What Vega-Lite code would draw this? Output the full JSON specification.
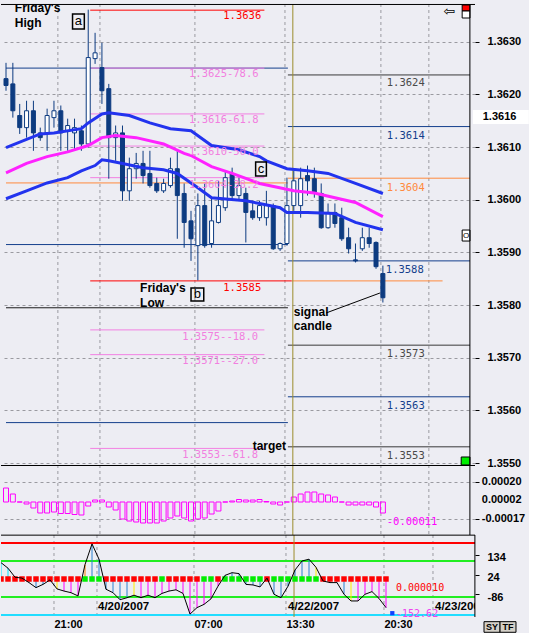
{
"$schema": "https://vega.github.io/schema/vega-lite/v6.json",
"background": "#ededf3",
"padding": {"left": 0, "top": 3, "right": 0, "bottom": 0},
"spacing": 0,
"bounds": "flush",
"config": {"view": {"stroke": null}, "text": {"font": "Liberation Sans"}, "axis": {"labelFont": "Liberation Sans"}},
"resolve": {"scale": {"x": "independent", "y": "independent", "color": "independent"}},
"datasets": {
"vgrid": [{"k":7.57},{"k":13.71},{"k":27.57},{"k":40.71},{"k":54.71},{"k":61.71}],
"one": [{}],
"levels": [
{"k":0,"k2":41.14,"p":1.3625,"cat":"navy"},
{"k":0,"k2":41.14,"p":1.36032,"cat":"orange"},
{"k":0,"k2":41.14,"p":1.35915,"cat":"navy"},
{"k":0,"k2":41.14,"p":1.35795,"cat":"black"},
{"k":0,"k2":41.14,"p":1.35577,"cat":"navy"},
{"k":12.29,"k2":37.71,"p":1.3625,"cat":"fib"},
{"k":12.29,"k2":37.71,"p":1.36163,"cat":"fib"},
{"k":12.29,"k2":37.71,"p":1.36102,"cat":"fib"},
{"k":12.29,"k2":37.71,"p":1.36042,"cat":"fib"},
{"k":12.29,"k2":37.71,"p":1.35753,"cat":"fib"},
{"k":12.29,"k2":37.71,"p":1.35706,"cat":"fib"},
{"k":12.29,"k2":37.71,"p":1.35528,"cat":"fib"},
{"k":12.29,"k2":37.71,"p":1.3636,"cat":"red"},
{"k":12.29,"k2":41.71,"p":1.35846,"cat":"red"},
{"k":41.71,"k2":63.71,"p":1.35846,"cat":"orange"},
{"k":41.14,"k2":67.714,"p":1.36237,"cat":"gray"},
{"k":41.14,"k2":67.714,"p":1.36139,"cat":"navy"},
{"k":41.14,"k2":67.714,"p":1.36041,"cat":"orange"},
{"k":41.14,"k2":67.714,"p":1.35884,"cat":"navy"},
{"k":41.14,"k2":67.714,"p":1.35724,"cat":"gray"},
{"k":41.14,"k2":67.714,"p":1.35626,"cat":"navy"},
{"k":41.14,"k2":67.714,"p":1.35531,"cat":"gray"}
],
"candles": [
{"k":0,"o":1.36230,"h":1.36260,"l":1.36207,"c":1.36217},
{"k":1,"o":1.36220,"h":1.36260,"l":1.36156,"c":1.36169},
{"k":2,"o":1.36160,"h":1.36182,"l":1.36125,"c":1.36137},
{"k":3,"o":1.36137,"h":1.36188,"l":1.36118,"c":1.36169},
{"k":4,"o":1.36169,"h":1.36188,"l":1.36093,"c":1.36127},
{"k":5,"o":1.36127,"h":1.36137,"l":1.36112,"c":1.36118},
{"k":6,"o":1.36127,"h":1.36173,"l":1.36093,"c":1.36160},
{"k":7,"o":1.36156,"h":1.36188,"l":1.36137,"c":1.36169},
{"k":8,"o":1.36169,"h":1.36179,"l":1.36093,"c":1.36127},
{"k":9,"o":1.36131,"h":1.36154,"l":1.36093,"c":1.36141},
{"k":10,"o":1.36127,"h":1.36154,"l":1.36093,"c":1.36137},
{"k":11,"o":1.36131,"h":1.36141,"l":1.36093,"c":1.36106},
{"k":12,"o":1.36106,"h":1.36361,"l":1.36099,"c":1.36270},
{"k":13,"o":1.36268,"h":1.36317,"l":1.36258,"c":1.36279},
{"k":14,"o":1.36251,"h":1.36298,"l":1.36182,"c":1.36207},
{"k":15,"o":1.36211,"h":1.36220,"l":1.36040,"c":1.36118},
{"k":16,"o":1.36118,"h":1.36141,"l":1.36074,"c":1.36127},
{"k":17,"o":1.36127,"h":1.36141,"l":1.35998,"c":1.36017},
{"k":18,"o":1.36017,"h":1.36080,"l":1.35998,"c":1.36059},
{"k":19,"o":1.36059,"h":1.36089,"l":1.36040,"c":1.36069},
{"k":20,"o":1.36069,"h":1.36093,"l":1.36031,"c":1.36046},
{"k":21,"o":1.36050,"h":1.36093,"l":1.36023,"c":1.36027},
{"k":22,"o":1.36031,"h":1.36042,"l":1.36013,"c":1.36017},
{"k":23,"o":1.36017,"h":1.36040,"l":1.36013,"c":1.36031},
{"k":24,"o":1.36027,"h":1.36080,"l":1.36023,"c":1.36059},
{"k":25,"o":1.36059,"h":1.36093,"l":1.35926,"c":1.36008},
{"k":26,"o":1.36012,"h":1.36031,"l":1.35909,"c":1.35957},
{"k":27,"o":1.35960,"h":1.35979,"l":1.35884,"c":1.35926},
{"k":28,"o":1.35913,"h":1.36012,"l":1.35847,"c":1.35989},
{"k":29,"o":1.35989,"h":1.36032,"l":1.35909,"c":1.35913},
{"k":30,"o":1.35917,"h":1.36004,"l":1.35909,"c":1.35960},
{"k":31,"o":1.35957,"h":1.36036,"l":1.35955,"c":1.35989},
{"k":32,"o":1.35985,"h":1.36055,"l":1.35979,"c":1.36042},
{"k":33,"o":1.36050,"h":1.36061,"l":1.35998,"c":1.36008},
{"k":34,"o":1.36008,"h":1.36042,"l":1.35998,"c":1.36027},
{"k":35,"o":1.36012,"h":1.36023,"l":1.35919,"c":1.35976},
{"k":36,"o":1.35979,"h":1.35998,"l":1.35962,"c":1.35966},
{"k":37,"o":1.35966,"h":1.35998,"l":1.35960,"c":1.35989},
{"k":38,"o":1.35966,"h":1.36017,"l":1.35951,"c":1.35989},
{"k":39,"o":1.35989,"h":1.35993,"l":1.35905,"c":1.35907},
{"k":40,"o":1.35907,"h":1.35919,"l":1.35903,"c":1.35917},
{"k":41,"o":1.35917,"h":1.36042,"l":1.35913,"c":1.35989},
{"k":42,"o":1.35989,"h":1.36055,"l":1.35979,"c":1.36036},
{"k":43,"o":1.35989,"h":1.36061,"l":1.35966,"c":1.36040},
{"k":44,"o":1.36046,"h":1.36065,"l":1.36008,"c":1.36036},
{"k":45,"o":1.36040,"h":1.36061,"l":1.36004,"c":1.36012},
{"k":46,"o":1.36012,"h":1.36031,"l":1.35945,"c":1.35947},
{"k":47,"o":1.35947,"h":1.35993,"l":1.35945,"c":1.35976},
{"k":48,"o":1.35976,"h":1.35993,"l":1.35947,"c":1.35955},
{"k":49,"o":1.35966,"h":1.35985,"l":1.35922,"c":1.35926},
{"k":50,"o":1.35928,"h":1.35947,"l":1.35898,"c":1.35907},
{"k":51,"o":1.35886,"h":1.35917,"l":1.35881,"c":1.35884},
{"k":52,"o":1.35907,"h":1.35947,"l":1.35903,"c":1.35928},
{"k":53,"o":1.35928,"h":1.35947,"l":1.35909,"c":1.35917},
{"k":54,"o":1.35919,"h":1.35921,"l":1.35869,"c":1.35873},
{"k":55,"o":1.35860,"h":1.35875,"l":1.35805,"c":1.35814}
],
"ma": [
{"k":0,"p":1.36099,"s":"U"},{"k":5,"p":1.36125,"s":"U"},{"k":7,"p":1.36127,"s":"U"},{"k":11,"p":1.36135,"s":"U"},{"k":12,"p":1.36146,"s":"U"},{"k":14,"p":1.36163,"s":"U"},{"k":15,"p":1.36165,"s":"U"},{"k":18,"p":1.36160,"s":"U"},{"k":21,"p":1.36146,"s":"U"},{"k":24,"p":1.36135,"s":"U"},{"k":27,"p":1.36131,"s":"U"},{"k":30,"p":1.36103,"s":"U"},{"k":34,"p":1.36095,"s":"U"},{"k":37,"p":1.36082,"s":"U"},{"k":38,"p":1.36074,"s":"U"},{"k":41,"p":1.36059,"s":"U"},{"k":44,"p":1.36055,"s":"U"},{"k":47,"p":1.36050,"s":"U"},{"k":51,"p":1.36031,"s":"U"},{"k":55,"p":1.36012,"s":"U"},
{"k":0,"p":1.36051,"s":"M"},{"k":3,"p":1.36069,"s":"M"},{"k":6,"p":1.36082,"s":"M"},{"k":9,"p":1.36091,"s":"M"},{"k":12,"p":1.36103,"s":"M"},{"k":14,"p":1.36118,"s":"M"},{"k":16,"p":1.36122,"s":"M"},{"k":19,"p":1.36118,"s":"M"},{"k":23,"p":1.36106,"s":"M"},{"k":26,"p":1.36088,"s":"M"},{"k":27,"p":1.36084,"s":"M"},{"k":30,"p":1.36063,"s":"M"},{"k":33,"p":1.36050,"s":"M"},{"k":37,"p":1.36031,"s":"M"},{"k":42,"p":1.36017,"s":"M"},{"k":45,"p":1.36013,"s":"M"},{"k":51,"p":1.35995,"s":"M"},{"k":55,"p":1.35968,"s":"M"},
{"k":0,"p":1.36002,"s":"L"},{"k":3,"p":1.36017,"s":"L"},{"k":6,"p":1.36032,"s":"L"},{"k":9,"p":1.36042,"s":"L"},{"k":11,"p":1.36055,"s":"L"},{"k":13,"p":1.36065,"s":"L"},{"k":14,"p":1.36076,"s":"L"},{"k":15,"p":1.36074,"s":"L"},{"k":17,"p":1.36069,"s":"L"},{"k":20,"p":1.36061,"s":"L"},{"k":23,"p":1.36057,"s":"L"},{"k":25,"p":1.36050,"s":"L"},{"k":28,"p":1.36023,"s":"L"},{"k":30,"p":1.36004,"s":"L"},{"k":35,"p":1.35998,"s":"L"},{"k":37,"p":1.35993,"s":"L"},{"k":40,"p":1.35985,"s":"L"},{"k":41,"p":1.35976,"s":"L"},{"k":44,"p":1.35976,"s":"L"},{"k":48,"p":1.35974,"s":"L"},{"k":51,"p":1.35957,"s":"L"},{"k":55,"p":1.35943,"s":"L"}
],
"levelLabels": [
{"k":31.71,"p":1.36348,"text":"1.3636","cat":"red"},
{"k":26.71,"p":1.36238,"text":"1.3625-78.6","cat":"fib"},
{"k":26.71,"p":1.36151,"text":"1.3616-61.8","cat":"fib"},
{"k":26.71,"p":1.36091,"text":"1.3610-50.0","cat":"fib"},
{"k":26.71,"p":1.36028,"text":"1.3604-38.2","cat":"fib"},
{"k":31.71,"p":1.35833,"text":"1.3585","cat":"red"},
{"k":25.71,"p":1.3574,"text":"1.3575--18.0","cat":"fib"},
{"k":25.71,"p":1.35694,"text":"1.3571--27.0","cat":"fib"},
{"k":25.71,"p":1.35516,"text":"1.3553--61.8","cat":"fib"},
{"k":55.57,"p":1.36222,"text":"1.3624","cat":"gray"},
{"k":55.57,"p":1.36121,"text":"1.3614","cat":"navy"},
{"k":55.57,"p":1.36023,"text":"1.3604","cat":"orange"},
{"k":55.43,"p":1.35867,"text":"1.3588","cat":"navy"},
{"k":55.57,"p":1.35707,"text":"1.3573","cat":"gray"},
{"k":55.57,"p":1.35609,"text":"1.3563","cat":"navy"},
{"k":55.57,"p":1.35514,"text":"1.3553","cat":"gray"}
],
"notes": [
{"k":1.29,"p":1.363641,"text":"Friday's"},
{"k":1.29,"p":1.363356,"text":"High"},
{"k":19.57,"p":1.358325,"text":"Friday's"},
{"k":19.57,"p":1.35804,"text":"Low"},
{"k":42,"p":1.35787,"text":"signal"},
{"k":42,"p":1.357604,"text":"candle"},
{"k":36,"p":1.355326,"text":"target"}
],
"boxes": [
{"k":9.71,"k2":11.43,"p":1.363527,"p2":1.363242,"kc":10.57,"pc":1.363385,"text":"a"},
{"k":27,"k2":28.86,"p":1.358325,"p2":1.358078,"kc":27.93,"pc":1.358202,"text":"b"},
{"k":36.43,"k2":38,"p":1.360717,"p2":1.360452,"kc":37.21,"pc":1.360585,"text":"c"}
],
"conn": [{"k":46.71,"k2":54.57,"p":1.357851,"p2":1.35823}],
"icons": [
{"k":66.57,"k2":67.71,"p":1.363698,"p2":1.363584,"cat":"red"},
{"k":66.57,"k2":67.71,"p":1.363584,"p2":1.363451,"cat":"white"},
{"k":66.57,"k2":67.71,"p":1.359426,"p2":1.359217,"cat":"white"},
{"k":66.43,"k2":67.71,"p":1.355117,"p2":1.354966,"cat":"green"}
],
"axisBox": [{"k":68.14,"k2":76.29,"p":1.361705,"p2":1.361439,"kc":69.57,"pc":1.361572,"text":"1.3616"}],
"arrow": [{"k":64.71,"p":1.36357,"text":"⇦"}],
"obox": [{"k":67.14,"p":1.359322,"text":"O"}],
"osc": [
{"k":0,"v":0.00014},{"k":1,"v":0.00008},{"k":2,"v":0},{"k":3,"v":-0.00002},{"k":4,"v":-0.00006},{"k":5,"v":-0.00011},{"k":6,"v":-0.00011},{"k":7,"v":-0.0001},{"k":8,"v":-0.000115},{"k":9,"v":-0.000115},{"k":10,"v":-0.000125},{"k":11,"v":-0.00013},{"k":12,"v":-0.00004},{"k":13,"v":0.00002},{"k":14,"v":0.00002},{"k":15,"v":-0.00005},{"k":16,"v":-0.00008},{"k":17,"v":-0.00017},{"k":18,"v":-0.00019},{"k":19,"v":-0.0002},{"k":20,"v":-0.00021},{"k":21,"v":-0.00021},{"k":22,"v":-0.00021},{"k":23,"v":-0.00019},{"k":24,"v":-0.00016},{"k":25,"v":-0.00014},{"k":26,"v":-0.00016},{"k":27,"v":-0.00019},{"k":28,"v":-0.00017},{"k":29,"v":-0.00016},{"k":30,"v":-0.00012},{"k":31,"v":-0.00009},{"k":32,"v":0},{"k":33,"v":0.00001},{"k":34,"v":0.000025},{"k":35,"v":0.00002},{"k":36,"v":0.00002},{"k":37,"v":0.000025},{"k":38,"v":0.000005},{"k":39,"v":-0.00002},{"k":40,"v":-0.00003},{"k":41,"v":0},{"k":42,"v":0.00005},{"k":43,"v":0.00008},{"k":44,"v":0.0001},{"k":45,"v":0.0001},{"k":46,"v":0.00008},{"k":47,"v":0.00007},{"k":48,"v":0.00005},{"k":49,"v":0},{"k":50,"v":-0.00003},{"k":51,"v":-0.00003},{"k":52,"v":-0.00003},{"k":53,"v":-0.00003},{"k":54,"v":-0.00005},{"k":55,"v":-0.00011}
],
"oscLabel": [{"k":55.57,"v":-0.0002,"text":"-0.00011"}],
"oscAxisLabels": [{"k":69.43,"v":0.0002,"text":"0.00020"},{"k":69.43,"v":0.00002,"text":"0.00002"},{"k":69.43,"v":-0.00017,"text":"-0.00017"}],
"cci": [
{"k":0,"v":91,"hc":"c","sq":"r"},{"k":1,"v":60,"hc":"c","sq":"r"},{"k":2,"v":10,"hc":"b","sq":"r"},{"k":3,"v":5,"hc":"b","sq":"r"},{"k":4,"v":-20,"hc":"b","sq":"r"},{"k":5,"v":-48,"hc":"b","sq":"r"},{"k":6,"v":-30,"hc":"b","sq":"r"},{"k":7,"v":-5,"hc":"b","sq":"r"},{"k":8,"v":-55,"hc":"y","sq":"r"},{"k":9,"v":-67,"hc":"m","sq":"r"},{"k":10,"v":-76,"hc":"m","sq":"r"},{"k":11,"v":-94,"hc":"m","sq":"r"},
{"k":12,"v":80,"hc":"o","sq":"g"},{"k":13,"v":195,"hc":"b","sq":"g"},{"k":14,"v":110,"hc":"b","sq":"g"},{"k":15,"v":-57,"hc":"b","sq":"r"},{"k":16,"v":-76,"hc":"b","sq":"r"},{"k":17,"v":-115,"hc":"b","sq":"r"},{"k":18,"v":-104,"hc":"b","sq":"r"},{"k":19,"v":-90,"hc":"y","sq":"r"},{"k":20,"v":-104,"hc":"m","sq":"r"},{"k":21,"v":-90,"hc":"m","sq":"r"},{"k":22,"v":-104,"hc":"m","sq":"r"},{"k":23,"v":-80,"hc":"m","sq":"g"},
{"k":24,"v":-67,"hc":"m","sq":"r"},{"k":25,"v":-60,"hc":"m","sq":"r"},{"k":26,"v":-80,"hc":"m","sq":"r"},{"k":27,"v":-195,"hc":"m","sq":"r"},{"k":28,"v":-159,"hc":"m","sq":"r"},{"k":29,"v":-141,"hc":"m","sq":"g"},{"k":30,"v":-110,"hc":"m","sq":"g"},{"k":31,"v":-40,"hc":"m","sq":"r"},{"k":32,"v":20,"hc":"b","sq":"g"},{"k":33,"v":35,"hc":"b","sq":"g"},{"k":34,"v":30,"hc":"b","sq":"g"},{"k":35,"v":-30,"hc":"b","sq":"g"},
{"k":36,"v":-33,"hc":"b","sq":"g"},{"k":37,"v":-44,"hc":"b","sq":"g"},{"k":38,"v":5,"hc":"b","sq":"r"},{"k":39,"v":-85,"hc":"b","sq":"g"},{"k":40,"v":-104,"hc":"b","sq":"g"},{"k":41,"v":-40,"hc":"b","sq":"g"},{"k":42,"v":50,"hc":"b","sq":"g"},{"k":43,"v":100,"hc":"b","sq":"g"},{"k":44,"v":110,"hc":"b","sq":"g"},{"k":45,"v":65,"hc":"y","sq":"g"},{"k":46,"v":-11,"hc":"b","sq":"r"},{"k":47,"v":-20,"hc":"b","sq":"r"},
{"k":48,"v":-20,"hc":"b","sq":"r"},{"k":49,"v":-85,"hc":"b","sq":"r"},{"k":50,"v":-122,"hc":"y","sq":"r"},{"k":51,"v":-122,"hc":"m","sq":"r"},{"k":52,"v":-85,"hc":"m","sq":"r"},{"k":53,"v":-70,"hc":"m","sq":"r"},{"k":54,"v":-108,"hc":"m","sq":"r"},{"k":55,"v":-159,"hc":"m","sq":"r"}
],
"cciLevels": [{"v":200,"cat":"red"},{"v":100,"cat":"green"},{"v":-100,"cat":"green"},{"v":-200,"cat":"cyan"}],
"dates": [{"k":13.86,"v":-155.6,"text":"4/20/2007"},{"k":41,"v":-155.6,"text":"4/22/2007"},{"k":62,"v":-155.6,"text":"4/23/2007"}],
"cciText": [{"k":56.43,"v":-50,"text":"0.000010","cat":"red"},{"k":56.43,"v":-197,"text":"-152.62","cat":"mag"}],
"bluePt": [{"k":55.9,"v":-190}],
"sytf": [{"k":69,"k2":71.29,"v":-237,"v2":-296,"kc":70.14,"vc":-266.5,"text":"SY"},{"k":71.29,"k2":73.57,"v":-237,"v2":-296,"kc":72.43,"vc":-266.5,"text":"TF"}]
},
"vconcat": [
{
"width": 474, "height": 461,
"resolve": {"scale": {"color": "independent", "fill": "independent"}},
"layer": [
{"data": {"name": "vgrid"}, "mark": {"type": "rule", "color": "#9a9aa0", "strokeDash": [3,3], "strokeWidth": 1},
 "encoding": {"x": {"field": "k", "type": "quantitative", "axis": null}}},
{"data": {"name": "levels"}, "mark": {"type": "rule", "strokeWidth": 1},
 "encoding": {
  "x": {"field": "k", "type": "quantitative", "scale": {"domain": [0, 67.714], "nice": false, "zero": false}, "axis": null},
  "x2": {"field": "k2"},
  "y": {"field": "p", "type": "quantitative", "scale": {"domain": [1.354965, 1.363717], "nice": false, "zero": false},
   "axis": {"orient": "right", "values": [1.355,1.356,1.357,1.358,1.359,1.36,1.361,1.362,1.363], "format": ".4f", "grid": true, "gridDash": [3,3], "gridColor": "#9a9aa0", "domain": false, "tickSize": 4, "tickColor": "#000", "labelPadding": 8, "labelFontSize": 11, "labelFontWeight": "bold", "labelColor": "#000", "title": null, "labelFlush": false, "labelOverlap": false}},
  "color": {"field": "cat", "type": "nominal", "scale": {"domain": ["navy","orange","black","fib","red","gray"], "range": ["#143f8c","#ff8a3d","#1a1a1a","#f281e2","#ff0000","#3a3a3a"]}, "legend": null}}},
{"data": {"name": "one"}, "mark": {"type": "rule", "color": "#9c8c2c", "strokeWidth": 1},
 "encoding": {"x": {"datum": 41.86, "type": "quantitative", "axis": null}}},
{"data": {"name": "candles"}, "mark": {"type": "rule", "color": "#0d3b80", "strokeWidth": 1, "clip": true},
 "encoding": {"x": {"field": "k", "type": "quantitative", "axis": null}, "y": {"field": "l", "type": "quantitative", "title": null}, "y2": {"field": "h"}}},
{"data": {"name": "candles"}, "mark": {"type": "bar", "width": 4, "stroke": "#0d3b80", "strokeWidth": 1, "clip": true},
 "encoding": {"x": {"field": "k", "type": "quantitative", "axis": null}, "y": {"field": "o", "type": "quantitative", "title": null}, "y2": {"field": "c"},
  "fill": {"condition": {"test": "datum.c > datum.o", "value": "#ffffff"}, "value": "#0d3b80"}}},
{"data": {"name": "ma"}, "mark": {"type": "line", "strokeWidth": 3, "clip": true},
 "encoding": {"x": {"field": "k", "type": "quantitative", "axis": null}, "y": {"field": "p", "type": "quantitative", "title": null},
  "color": {"field": "s", "type": "nominal", "scale": {"domain": ["U","M","L"], "range": ["#2233ee","#ff22ff","#2233ee"]}, "legend": null}}},
{"data": {"name": "levelLabels"}, "mark": {"type": "text", "align": "left", "baseline": "middle", "font": "DejaVu Sans Mono", "fontSize": 10.5},
 "encoding": {"x": {"field": "k", "type": "quantitative", "axis": null}, "y": {"field": "p", "type": "quantitative", "title": null}, "text": {"field": "text"},
  "color": {"field": "cat", "type": "nominal", "scale": {"domain": ["fib","red","gray","navy","orange"], "range": ["#f27fe0","#ff0000","#4a4a4a","#143f8c","#ff8a3d"]}, "legend": null}}},
{"data": {"name": "notes"}, "mark": {"type": "text", "align": "left", "baseline": "middle", "fontSize": 12, "fontWeight": "bold", "color": "#000", "clip": true},
 "encoding": {"x": {"field": "k", "type": "quantitative", "axis": null}, "y": {"field": "p", "type": "quantitative", "title": null}, "text": {"field": "text"}}},
{"data": {"name": "boxes"}, "mark": {"type": "rect", "fill": "transparent", "stroke": "#000", "strokeWidth": 1.5},
 "encoding": {"x": {"field": "k", "type": "quantitative", "axis": null}, "x2": {"field": "k2"}, "y": {"field": "p", "type": "quantitative", "title": null}, "y2": {"field": "p2"}}},
{"data": {"name": "boxes"}, "mark": {"type": "text", "align": "center", "baseline": "middle", "fontSize": 13, "color": "#000"},
 "encoding": {"x": {"field": "kc", "type": "quantitative", "axis": null}, "y": {"field": "pc", "type": "quantitative", "title": null}, "text": {"field": "text"}}},
{"data": {"name": "conn"}, "mark": {"type": "rule", "color": "#000", "strokeWidth": 1},
 "encoding": {"x": {"field": "k", "type": "quantitative", "axis": null}, "x2": {"field": "k2"}, "y": {"field": "p", "type": "quantitative", "title": null}, "y2": {"field": "p2"}}},
{"data": {"name": "icons"}, "mark": {"type": "rect", "stroke": "#000", "strokeWidth": 1},
 "encoding": {"x": {"field": "k", "type": "quantitative", "axis": null}, "x2": {"field": "k2"}, "y": {"field": "p", "type": "quantitative", "title": null}, "y2": {"field": "p2"},
  "fill": {"field": "cat", "type": "nominal", "scale": {"domain": ["red","white","green"], "range": ["#ff0000","#ffffff","#00ee00"]}, "legend": null}}},
{"data": {"name": "axisBox"}, "mark": {"type": "rect", "fill": "#ffffff"},
 "encoding": {"x": {"field": "k", "type": "quantitative", "axis": null}, "x2": {"field": "k2"}, "y": {"field": "p", "type": "quantitative", "title": null}, "y2": {"field": "p2"}}},
{"data": {"name": "axisBox"}, "mark": {"type": "text", "align": "left", "baseline": "middle", "fontSize": 11, "fontWeight": "bold", "color": "#000"},
 "encoding": {"x": {"field": "kc", "type": "quantitative", "axis": null}, "y": {"field": "pc", "type": "quantitative", "title": null}, "text": {"field": "text"}}},
{"data": {"name": "arrow"}, "mark": {"type": "text", "align": "center", "baseline": "middle", "fontSize": 14, "font": "DejaVu Sans", "color": "#000", "clip": true},
 "encoding": {"x": {"field": "k", "type": "quantitative", "axis": null}, "y": {"field": "p", "type": "quantitative", "title": null}, "text": {"field": "text"}}},
{"data": {"name": "obox"}, "mark": {"type": "text", "align": "center", "baseline": "middle", "fontSize": 8, "color": "#000"},
 "encoding": {"x": {"field": "k", "type": "quantitative", "axis": null}, "y": {"field": "p", "type": "quantitative", "title": null}, "text": {"field": "text"}}},
{"data": {"name": "one"}, "mark": {"type": "rule", "color": "#000", "strokeWidth": 1},
 "encoding": {"y": {"datum": 1.363708, "type": "quantitative"}}},
{"data": {"name": "one"}, "mark": {"type": "rule", "color": "#000", "strokeWidth": 1},
 "encoding": {"x": {"datum": 67.7, "type": "quantitative", "axis": null}}}
]
},
{
"width": 474, "height": 70,
"layer": [
{"data": {"name": "vgrid"}, "mark": {"type": "rule", "color": "#9a9aa0", "strokeDash": [3,3], "strokeWidth": 1},
 "encoding": {"x": {"field": "k", "type": "quantitative", "axis": null}}},
{"data": {"name": "osc"}, "mark": {"type": "bar", "width": 5, "fill": "transparent", "stroke": "#ff00ff", "strokeWidth": 1, "clip": true},
 "encoding": {
  "x": {"field": "k", "type": "quantitative", "scale": {"domain": [0, 67.714], "nice": false, "zero": false}, "axis": null},
  "y": {"field": "v", "type": "quantitative", "scale": {"domain": [-0.00033, 0.00037], "nice": false, "zero": false},
   "axis": {"orient": "right", "values": [-0.00017, 0.00002, 0.0002], "labels": false, "grid": true, "gridDash": [3,3], "gridColor": "#9a9aa0", "domain": false, "tickSize": 4, "tickColor": "#000", "title": null}},
  "y2": {"datum": 0}}},
{"data": {"name": "one"}, "mark": {"type": "rule", "color": "#9c8c2c", "strokeWidth": 1},
 "encoding": {"x": {"datum": 41.86, "type": "quantitative", "axis": null}}},
{"data": {"name": "oscLabel"}, "mark": {"type": "text", "align": "left", "baseline": "middle", "font": "DejaVu Sans Mono", "fontSize": 10.5, "color": "#ff00ff"},
 "encoding": {"x": {"field": "k", "type": "quantitative", "axis": null}, "y": {"field": "v", "type": "quantitative", "title": null}, "text": {"field": "text"}}},
{"data": {"name": "oscAxisLabels"}, "mark": {"type": "text", "align": "left", "baseline": "middle", "fontSize": 11, "fontWeight": "bold", "color": "#000"},
 "encoding": {"x": {"field": "k", "type": "quantitative", "axis": null}, "y": {"field": "v", "type": "quantitative", "title": null}, "text": {"field": "text"}}},
{"data": {"name": "one"}, "mark": {"type": "rule", "color": "#000", "strokeWidth": 1},
 "encoding": {"y": {"datum": 0.000365, "type": "quantitative"}}},
{"data": {"name": "one"}, "mark": {"type": "rule", "color": "#000", "strokeWidth": 1},
 "encoding": {"x": {"datum": 67.7, "type": "quantitative", "axis": null}}}
]
},
{
"width": 474, "height": 82,
"resolve": {"scale": {"color": "independent"}},
"layer": [
{"data": {"name": "vgrid"}, "mark": {"type": "rule", "color": "#9a9aa0", "strokeDash": [3,3], "strokeWidth": 1},
 "encoding": {"x": {"field": "k", "type": "quantitative", "scale": {"domain": [0, 67.714], "nice": false, "zero": false},
  "axis": {"orient": "bottom", "values": [7.57, 27.57, 40.71, 54.71], "labelExpr": "datum.value < 10 ? '21:00' : (datum.value < 30 ? '07:00' : (datum.value < 45 ? '13:30' : '20:30'))", "labelAlign": "left", "labelFontWeight": "bold", "labelFontSize": 11, "labelColor": "#000", "ticks": false, "domain": false, "grid": false, "labelPadding": 1, "title": null, "labelFlush": false, "labelOverlap": false}}}},
{"data": {"name": "cciLevels"}, "mark": {"type": "rule", "strokeWidth": 2},
 "encoding": {
  "y": {"field": "v", "type": "quantitative", "scale": {"domain": [-211.1, 244.4], "nice": false, "zero": false},
   "axis": {"orient": "right", "values": [134, 24, -86], "labelExpr": "'' + datum.value", "tickSize": 4, "tickColor": "#000", "domain": false, "grid": false, "labelPadding": 8, "labelFontSize": 11, "labelFontWeight": "bold", "labelColor": "#000", "labelOffset": 3, "title": null, "labelFlush": false, "labelOverlap": false}},
  "color": {"field": "cat", "type": "nominal", "scale": {"domain": ["red","green","cyan"], "range": ["#ff0000","#22ee22","#22ddff"]}, "legend": null}}},
{"data": {"name": "one"}, "mark": {"type": "rule", "color": "#9c8c2c", "strokeWidth": 1},
 "encoding": {"x": {"datum": 41.86, "type": "quantitative"}}},
{"data": {"name": "cci"}, "mark": {"type": "rule", "strokeWidth": 1, "clip": true},
 "encoding": {"x": {"field": "k", "type": "quantitative", "title": null}, "y": {"field": "v", "type": "quantitative", "title": null}, "y2": {"datum": 0},
  "color": {"field": "hc", "type": "nominal", "scale": {"domain": ["b","m","y","c","o"], "range": ["#2a80d0","#ff00ff","#ffee00","#00e5ff","#ff8000"]}, "legend": null}}},
{"data": {"name": "cci"}, "mark": {"type": "point", "shape": "square", "filled": true, "size": 30, "opacity": 1, "clip": true},
 "encoding": {"x": {"field": "k", "type": "quantitative", "title": null}, "y": {"datum": 0, "type": "quantitative"},
  "color": {"field": "sq", "type": "nominal", "scale": {"domain": ["r","g"], "range": ["#ff0000","#00ee00"]}, "legend": null}}},
{"data": {"name": "cci"}, "mark": {"type": "line", "color": "#000", "strokeWidth": 1, "clip": true},
 "encoding": {"x": {"field": "k", "type": "quantitative", "title": null}, "y": {"field": "v", "type": "quantitative", "title": null}}},
{"data": {"name": "dates"}, "mark": {"type": "text", "align": "left", "baseline": "middle", "fontSize": 11.5, "fontWeight": "bold", "color": "#000", "clip": true},
 "encoding": {"x": {"field": "k", "type": "quantitative", "title": null}, "y": {"field": "v", "type": "quantitative", "title": null}, "text": {"field": "text"}}},
{"data": {"name": "cciText"}, "mark": {"type": "text", "align": "left", "baseline": "middle", "font": "DejaVu Sans Mono", "fontSize": 10},
 "encoding": {"x": {"field": "k", "type": "quantitative", "title": null}, "y": {"field": "v", "type": "quantitative", "title": null}, "text": {"field": "text"},
  "color": {"field": "cat", "type": "nominal", "scale": {"domain": ["red","mag"], "range": ["#ff0000","#ee44ee"]}, "legend": null}}},
{"data": {"name": "bluePt"}, "mark": {"type": "point", "shape": "square", "filled": true, "size": 18, "color": "#1040ff", "opacity": 1},
 "encoding": {"x": {"field": "k", "type": "quantitative", "title": null}, "y": {"field": "v", "type": "quantitative", "title": null}}},
{"data": {"name": "sytf"}, "mark": {"type": "rect", "fill": "#d4d0c8", "stroke": "#000", "strokeWidth": 1},
 "encoding": {"x": {"field": "k", "type": "quantitative", "title": null}, "x2": {"field": "k2"}, "y": {"field": "v", "type": "quantitative", "title": null}, "y2": {"field": "v2"}}},
{"data": {"name": "sytf"}, "mark": {"type": "text", "align": "center", "baseline": "middle", "fontSize": 9, "fontWeight": "bold", "color": "#000"},
 "encoding": {"x": {"field": "kc", "type": "quantitative", "title": null}, "y": {"field": "vc", "type": "quantitative", "title": null}, "text": {"field": "text"}}},
{"data": {"name": "one"}, "mark": {"type": "rule", "color": "#000", "strokeWidth": 1},
 "encoding": {"y": {"datum": 243.6, "type": "quantitative"}}},
{"data": {"name": "one"}, "mark": {"type": "rule", "color": "#000", "strokeWidth": 1},
 "encoding": {"x": {"datum": 67.7, "type": "quantitative"}}}
]
}
]
}
